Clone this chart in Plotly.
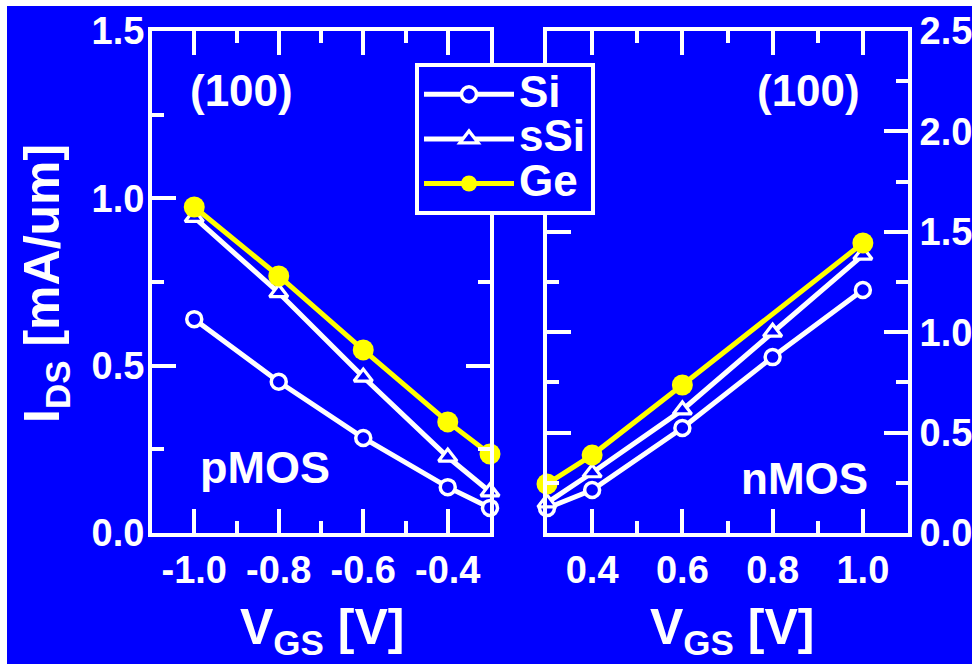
import plotly.graph_objects as go

BLUE = "#0000ff"
YELLOW = "#ffff00"
WHITE = "#ffffff"
FONT = "Liberation Sans, Arial, Helvetica, sans-serif"

# ---------------- data ----------------
series_names = ["Si", "sSi", "Ge"]

pmos_vgs = [-1.0, -0.8, -0.6, -0.4, -0.3]
pmos_si = [0.639, 0.452, 0.284, 0.137, 0.075]
pmos_ssi = [0.943, 0.718, 0.466, 0.227, 0.123]
pmos_ge = [0.974, 0.768, 0.547, 0.332, 0.236]

nmos_vgs = [0.3, 0.4, 0.6, 0.8, 1.0]
nmos_si = [0.124, 0.214, 0.523, 0.876, 1.21]
nmos_ssi = [0.15, 0.30, 0.613, 1.0, 1.384]
nmos_ge_vgs = [0.3, 0.4, 0.6, 1.0]
nmos_ge = [0.244, 0.388, 0.737, 1.444]

pmos_tickvals = [-1.0, -0.8, -0.6, -0.4]
pmos_ticktext = ["-1.0", "-0.8", "-0.6", "-0.4"]
nmos_tickvals = [0.4, 0.6, 0.8, 1.0]
nmos_ticktext = ["0.4", "0.6", "0.8", "1.0"]
left_y_tickvals = [0.0, 0.5, 1.0, 1.5]
left_y_ticktext = ["0.0", "0.5", "1.0", "1.5"]
right_y_tickvals = [0.0, 0.5, 1.0, 1.5, 2.0, 2.5]
right_y_ticktext = ["0.0", "0.5", "1.0", "1.5", "2.0", "2.5"]

# ---------------- styles ----------------
W, H = 972, 664
LINE_W = 5
styles = {
    "Si": dict(line=dict(color=WHITE, width=LINE_W),
               marker=dict(symbol="circle", size=15, color=BLUE,
                           line=dict(color=WHITE, width=3.5))),
    "sSi": dict(line=dict(color=WHITE, width=LINE_W),
                marker=dict(symbol="triangle-up", size=16, color=BLUE,
                            line=dict(color=WHITE, width=3.2))),
    "Ge": dict(line=dict(color=YELLOW, width=LINE_W),
               marker=dict(symbol="circle", size=21, color=YELLOW,
                           line=dict(color=YELLOW, width=0))),
}

fig = go.Figure()

pmos_data = {"Si": (pmos_vgs, pmos_si), "sSi": (pmos_vgs, pmos_ssi), "Ge": (pmos_vgs, pmos_ge)}
nmos_data = {"Si": (nmos_vgs, nmos_si), "sSi": (nmos_vgs, nmos_ssi), "Ge": (nmos_ge_vgs, nmos_ge)}

LEG_TEXT = "<span style='font-size:44px'>{}</span>"

for name in series_names:
    x, y = pmos_data[name]
    fig.add_trace(go.Scatter(x=x, y=y, name=LEG_TEXT.format(name), mode="lines+markers",
                             xaxis="x", yaxis="y", cliponaxis=False,
                             showlegend=True, legendgroup=name, **styles[name]))
for name in series_names:
    x, y = nmos_data[name]
    fig.add_trace(go.Scatter(x=x, y=y, name=LEG_TEXT.format(name), mode="lines+markers",
                             xaxis="x2", yaxis="y2", cliponaxis=False,
                             showlegend=False, legendgroup=name, **styles[name]))

TICK_FONT = dict(family=FONT, size=38, color=WHITE, weight="bold")
common_axis = dict(showline=True, linecolor=WHITE, linewidth=4, mirror="allticks",
                   ticks="inside", ticklen=24, tickwidth=4, tickcolor=WHITE,
                   showgrid=False, zeroline=False, tickfont=TICK_FONT,
                   fixedrange=True)

x_dom1 = [152 / W, 490 / W]
x_dom2 = [547 / W, 908 / W]
y_dom = [(H - 533) / H, (H - 31) / H]

fig.update_layout(
    width=W, height=H,
    margin=dict(l=0, r=0, t=0, b=0, pad=0, autoexpand=False),
    paper_bgcolor=WHITE,
    plot_bgcolor=BLUE,
    font=dict(family=FONT, color=WHITE, weight="bold"),
    xaxis=dict(domain=x_dom1, range=[-1.1, -0.3], anchor="y",
               tickvals=pmos_tickvals, ticktext=pmos_ticktext,
               minor=dict(ticks="inside", ticklen=12, tickwidth=4, tickcolor=WHITE, dtick=0.1, tick0=-1.0),
               **common_axis),
    yaxis=dict(domain=y_dom, range=[0, 1.5], anchor="x",
               tickvals=left_y_tickvals, ticktext=left_y_ticktext, ticklabelstandoff=-4,
               minor=dict(ticks="inside", ticklen=12, tickwidth=4, tickcolor=WHITE, dtick=0.25, tick0=0),
               **common_axis),
    xaxis2=dict(domain=x_dom2, range=[0.3, 1.1], anchor="y2",
                tickvals=nmos_tickvals, ticktext=nmos_ticktext,
                minor=dict(ticks="inside", ticklen=12, tickwidth=4, tickcolor=WHITE, dtick=0.1, tick0=0.4),
                **common_axis),
    yaxis2=dict(domain=y_dom, range=[0, 2.5], anchor="x2", side="right",
                tickvals=right_y_tickvals, ticktext=right_y_ticktext,
                minor=dict(ticks="inside", ticklen=12, tickwidth=4, tickcolor=WHITE, dtick=0.25, tick0=0),
                **common_axis),
    legend=dict(x=415 / W, y=1 - 63 / H, xanchor="left", yanchor="top",
                bgcolor=BLUE, bordercolor=WHITE, borderwidth=4,
                font=dict(family=FONT, size=32, color=WHITE, weight="bold"),
                itemwidth=90, tracegroupgap=0),
    shapes=[dict(type="rect", xref="paper", yref="paper", x0=7 / W, x1=1, y0=0, y1=1 - 6 / H,
                 fillcolor=BLUE, line=dict(width=0), layer="below")],
)

ANN_FONT = dict(family=FONT, size=44, color=WHITE, weight="bold")
TITLE_FONT = dict(family=FONT, size=50, color=WHITE, weight="bold")
annotations = [
    dict(text="(100)", x=241 / W, y=1 - 90 / H, font=ANN_FONT),
    dict(text="(100)", x=808 / W, y=1 - 90 / H, font=ANN_FONT),
    dict(text="pMOS", x=265 / W, y=1 - 467 / H, font=dict(ANN_FONT, size=45)),
    dict(text="nMOS", x=804 / W, y=1 - 478 / H, font=ANN_FONT),
    dict(text="I<sub>DS</sub> [mA/um]", x=45 / W, y=1 - 284 / H, textangle=-90, font=TITLE_FONT),
    dict(text="V<sub>GS</sub> [V]", x=322 / W, y=1 - 630 / H, font=TITLE_FONT),
    dict(text="V<sub>GS</sub> [V]", x=732 / W, y=1 - 630 / H, font=TITLE_FONT),
]
for a in annotations:
    fig.add_annotation(xref="paper", yref="paper", showarrow=False,
                       xanchor="center", yanchor="middle", **a)

fig.write_html("out.html")
